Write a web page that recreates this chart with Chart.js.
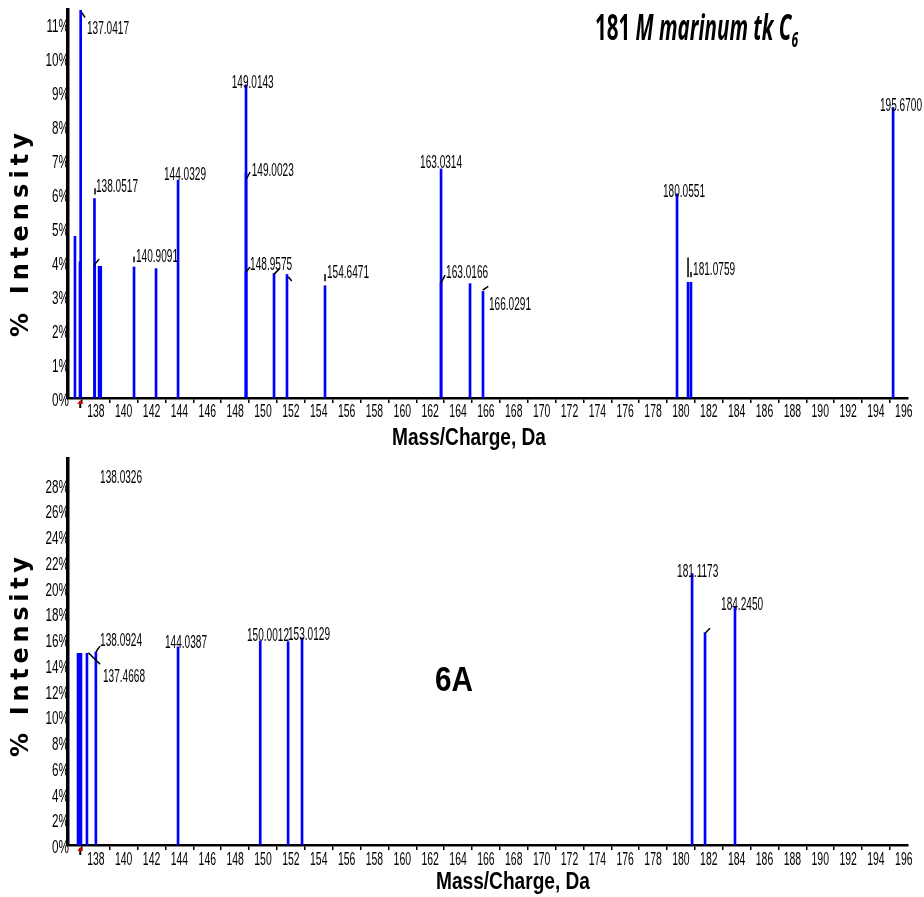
<!DOCTYPE html>
<html>
<head>
<meta charset="utf-8">
<script src="https://cdn.jsdelivr.net/npm/chart.js@4.4.0/dist/chart.umd.min.js"></script>
<style>
  body { margin: 0; background: #fff; overflow: hidden; }
  #wrap { position: relative; width: 924px; height: 897px; }
  canvas { position: absolute; left: 0; }
</style>
</head>
<body>
<div id="wrap">
  <canvas id="topChart" width="924" height="460" style="top:0"></canvas>
  <canvas id="bottomChart" width="924" height="447" style="top:450px"></canvas>
</div>
<script>
// ================== DATA ================== //

// x axis tick labels (m/z)
const xTickValues = [138, 140, 142, 144, 146, 148, 150, 152, 154, 156, 158, 160, 162, 164, 166,
  168, 170, 172, 174, 176, 178, 180, 182, 184, 186, 188, 190, 192, 194, 196];

// top panel: 181 M marinum tk C6
const topYTicks = [0, 1, 2, 3, 4, 5, 6, 7, 8, 9, 10, 11];
const topMz = [136.50, 136.86, 136.91, 137.90, 137.92, 138.23, 138.35, 140.74, 142.32, 143.90,
  148.78, 148.78, 148.78, 150.79, 151.72, 154.45, 162.78, 162.78, 164.86, 165.79,
  179.72, 180.51, 180.72, 195.23];
const topIntensity = [4.75, 4.0, 11.4, 5.86, 3.9, 3.87, 3.87, 3.85, 3.8, 6.4,
  9.2, 6.6, 3.7, 3.66, 3.63, 3.3, 6.73, 3.4, 3.36, 3.13,
  6.0, 3.4, 3.4, 8.53];
const topPeakLabels = ['137.0417', '149.0143', '138.0517', '144.0329', '149.0023', '140.9091',
  '148.9575', '154.6471', '163.0314', '163.0166', '166.0291', '180.0551', '181.0759', '195.6700'];

// bottom panel: 6A
const bottomYTicks = [0, 2, 4, 6, 8, 10, 12, 14, 16, 18, 20, 22, 24, 26, 28];
const bottomMz = [136.72, 136.83, 136.93, 137.36, 138.00, 143.90, 149.80, 151.80, 152.80,
  180.80, 181.73, 183.88];
const bottomIntensity = [14.9, 14.9, 14.9, 14.9, 15.0, 15.4, 15.85, 15.8, 16.1,
  21.1, 16.5, 18.5];
const bottomPeakLabels = ['138.0326', '138.0924', '137.4668', '144.0387', '150.0012', '153.0129',
  '181.1173', '184.2450'];

// ================== LAYOUT ================== //

const CONFIG = {
  mzMin: 136,
  mzMax: 196.3,
  precursorMz: 136.88,
  colors: { peak: '#0000ff', text: '#000000', marker: '#e00000' },
  fonts: {
    small: '18px "Liberation Sans", Arial, sans-serif',
    axisTitle: 'bold 23px "Liberation Sans", Arial, sans-serif',
    yTitle: 'bold 24px "DejaVu Sans", sans-serif',
    big: 'bold 35px "Liberation Sans", Arial, sans-serif'
  }
};

// where each peak label sits, in data units [m/z, %] (left edge, vertical middle)
const topLabelAnchors = [[137.36, 10.85], [147.75, 9.25], [138.01, 6.2], [142.89, 6.54],
  [149.19, 6.67], [140.88, 4.14], [149.07, 3.9], [154.59, 3.67], [161.27, 6.89],
  [163.14, 3.67], [166.22, 2.73], [178.71, 6.04], [180.87, 3.75], [194.29, 8.59]];
const bottomLabelAnchors = [[138.30, 28.52], [138.30, 15.85], [138.51, 13.05], [142.96, 15.7],
  [148.85, 16.24], [151.79, 16.32], [179.72, 21.21], [182.88, 18.65]];

// short leader ticks between labels and peaks, data units [mz1, %1, mz2, %2]
const topLeaders = [
  [136.98, 11.33, 137.22, 11.18], [137.94, 6.16, 137.94, 5.98], [137.87, 3.90, 138.23, 4.08],
  [140.74, 4.16, 140.74, 3.99], [148.83, 6.45, 149.07, 6.64], [148.78, 3.70, 149.07, 3.85],
  [150.79, 3.64, 151.22, 3.81], [151.81, 3.56, 152.06, 3.44], [154.45, 3.64, 154.45, 3.43],
  [162.78, 3.38, 163.07, 3.61], [165.77, 3.17, 166.17, 3.28], [180.51, 4.13, 180.51, 3.55],
  [180.72, 3.70, 180.72, 3.55]
];
const bottomLeaders = [
  [137.46, 14.94, 138.30, 14.06], [138.01, 15.02, 138.30, 15.46], [181.73, 16.45, 182.09, 16.84]
];

const PANELS = [
  {
    canvasId: 'topChart',
    mz: topMz, intensity: topIntensity,
    labels: topPeakLabels, anchors: topLabelAnchors, leaders: topLeaders,
    yMax: 11.4, yTicks: topYTicks,
    padding: { left: 60, right: 16, top: 10, bottom: 57 },
    tickLabelDy: 14, xTitle: { cx: 469, dy: 41, width: 154 },
    yTitle: { cx: 22, cy: 235, length: 204 },
    heading: {
      left: 595, baseline: 40, width: 203,
      parts: [
        { text: '181 ', font: 'bold 36px "Noto Sans", sans-serif' },
        { text: 'M marinum tk C', font: 'italic bold 36px "Noto Sans", sans-serif' },
        { text: '6', font: 'italic bold 21px "Noto Sans", sans-serif', dy: 7 }
      ]
    }
  },
  {
    canvasId: 'bottomChart',
    mz: bottomMz, intensity: bottomIntensity,
    labels: bottomPeakLabels, anchors: bottomLabelAnchors, leaders: bottomLeaders,
    yMax: 30, yTicks: bottomYTicks,
    padding: { left: 60, right: 16, top: 9, bottom: 47 },
    tickLabelDy: 15, xTitle: { cx: 513, dy: 38, width: 154 },
    yTitle: { cx: 22, cy: 207, length: 200 },
    tag: { text: '6A', cx: 454, cy: 231, width: 38 }
  }
];

// ================== DRAWING HELPERS ================== //

/**
 * Horizontally squeezed text (the original uses a very narrow face)
 */
function drawNarrow(ctx, text, x, y, font, sx, align) {
  ctx.save();
  ctx.font = font;
  const w = ctx.measureText(text).width * sx;
  const left = align === 'center' ? x - w / 2 : align === 'right' ? x - w : x;
  ctx.translate(left, y);
  ctx.scale(sx, 1);
  ctx.textAlign = 'left';
  ctx.textBaseline = 'middle';
  ctx.fillText(text, 0, 0);
  ctx.restore();
}

function drawFitted(ctx, text, cx, cy, font, width) {
  ctx.save();
  ctx.font = font;
  const sx = width / ctx.measureText(text).width;
  ctx.restore();
  drawNarrow(ctx, text, cx, cy, font, sx, 'center');
}

/**
 * Rotated, letter-spaced y axis title
 */
function drawSpacedVertical(ctx, text, cx, cy, font, length) {
  ctx.save();
  ctx.font = font;
  const chars = [...text];
  const widths = chars.map(c => ctx.measureText(c).width);
  const natural = widths.reduce((a, b) => a + b, 0);
  const gap = (length - natural) / (chars.length - 1);
  ctx.translate(cx, cy);
  ctx.rotate(-Math.PI / 2);
  ctx.textAlign = 'left';
  ctx.textBaseline = 'middle';
  let pos = -length / 2;
  chars.forEach((c, i) => {
    ctx.fillText(c, pos, 0);
    pos += widths[i] + gap;
  });
  ctx.restore();
}

function drawHeading(ctx, h) {
  ctx.save();
  const widths = h.parts.map(p => { ctx.font = p.font; return ctx.measureText(p.text).width; });
  const sx = h.width / widths.reduce((a, b) => a + b, 0);
  ctx.translate(h.left, h.baseline);
  ctx.scale(sx, 1);
  ctx.textAlign = 'left';
  ctx.textBaseline = 'alphabetic';
  let pos = 0;
  h.parts.forEach((p, i) => {
    ctx.font = p.font;
    ctx.fillText(p.text, pos, p.dy || 0);
    pos += widths[i];
  });
  ctx.restore();
}

/**
 * Small precursor arrow just under the m/z axis
 */
function drawPrecursor(ctx, px, axisY) {
  ctx.save();
  ctx.strokeStyle = '#000';
  ctx.lineWidth = 2;
  ctx.beginPath();
  ctx.moveTo(px, axisY + 3);
  ctx.lineTo(px, axisY + 10);
  ctx.stroke();
  ctx.fillStyle = CONFIG.colors.marker;
  ctx.beginPath();
  ctx.moveTo(px, axisY + 2);
  ctx.lineTo(px - 3, axisY + 6);
  ctx.lineTo(px + 3, axisY + 6);
  ctx.closePath();
  ctx.fill();
  ctx.restore();
}

/**
 * Plugin: tick labels, peak labels, leaders and titles
 */
function makeTextPlugin(panel) {
  return {
    id: 'spectrumText',
    afterDraw(chart) {
      const { ctx, chartArea, scales: { x, y } } = chart;
      ctx.save();
      ctx.fillStyle = CONFIG.colors.text;

      y.ticks.forEach(t => drawNarrow(ctx, t.value + '%', chartArea.left + 1,
        y.getPixelForValue(t.value) + 3, CONFIG.fonts.small, 0.65, 'right'));
      x.ticks.forEach(t => drawNarrow(ctx, String(t.value), x.getPixelForValue(t.value),
        chartArea.bottom + panel.tickLabelDy, CONFIG.fonts.small, 0.58, 'center'));

      panel.labels.forEach((text, i) => {
        const [m, p] = panel.anchors[i];
        drawNarrow(ctx, text, x.getPixelForValue(m), y.getPixelForValue(p), CONFIG.fonts.small, 0.56, 'left');
      });

      ctx.strokeStyle = CONFIG.colors.text;
      ctx.lineWidth = 1.5;
      panel.leaders.forEach(([m1, p1, m2, p2]) => {
        ctx.beginPath();
        ctx.moveTo(x.getPixelForValue(m1), y.getPixelForValue(p1));
        ctx.lineTo(x.getPixelForValue(m2), y.getPixelForValue(p2));
        ctx.stroke();
      });

      drawPrecursor(ctx, x.getPixelForValue(CONFIG.precursorMz), chartArea.bottom);

      drawFitted(ctx, 'Mass/Charge, Da', panel.xTitle.cx, chartArea.bottom + panel.xTitle.dy,
        CONFIG.fonts.axisTitle, panel.xTitle.width);
      drawSpacedVertical(ctx, '% Intensity', panel.yTitle.cx, panel.yTitle.cy,
        CONFIG.fonts.yTitle, panel.yTitle.length);

      if (panel.heading) drawHeading(ctx, panel.heading);
      if (panel.tag) drawFitted(ctx, panel.tag.text, panel.tag.cx, panel.tag.cy, CONFIG.fonts.big, panel.tag.width);
      ctx.restore();
    }
  };
}

// ================== CHARTS ================== //

function buildChart(panel) {
  return new Chart(document.getElementById(panel.canvasId), {
    type: 'bar',
    data: {
      datasets: [{
        data: panel.mz.map((m, i) => ({ x: m, y: panel.intensity[i] })),
        backgroundColor: CONFIG.colors.peak,
        barThickness: 2,
        borderWidth: 0
      }]
    },
    options: {
      responsive: false,
      animation: false,
      devicePixelRatio: 1,
      layout: { padding: panel.padding },
      plugins: { legend: { display: false }, tooltip: { enabled: false } },
      scales: {
        x: {
          type: 'linear',
          min: CONFIG.mzMin,
          max: CONFIG.mzMax,
          offset: false,
          afterBuildTicks: s => { s.ticks = xTickValues.map(v => ({ value: v })); },
          ticks: { display: false },
          grid: { display: true, drawOnChartArea: false, drawTicks: true, tickLength: 5, color: '#000', lineWidth: 1.5 },
          border: { display: true, color: '#000', width: 2.5 }
        },
        y: {
          type: 'linear',
          min: 0,
          max: panel.yMax,
          afterBuildTicks: s => { s.ticks = panel.yTicks.map(v => ({ value: v })); },
          ticks: { display: false },
          grid: { display: false },
          border: { display: true, color: '#000', width: 3.5 }
        }
      }
    },
    plugins: [makeTextPlugin(panel)]
  });
}

PANELS.forEach(buildChart);
</script>
</body>
</html>
